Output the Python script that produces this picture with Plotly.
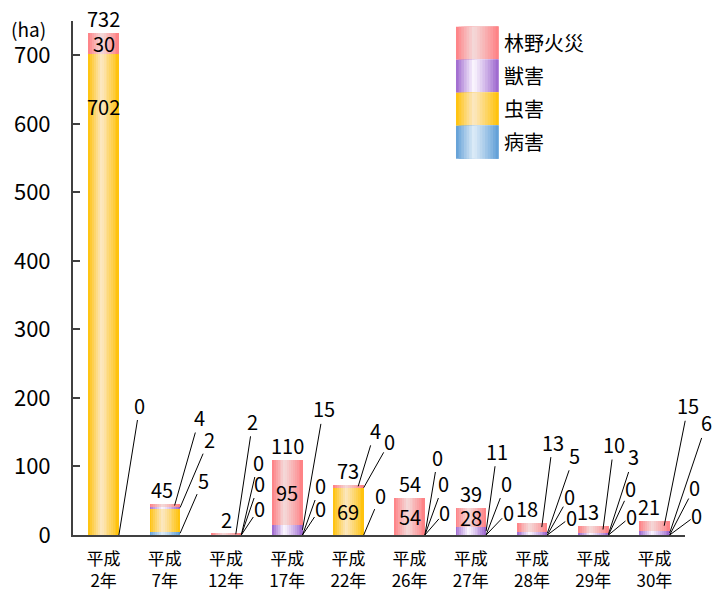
import plotly.graph_objects as go

# ---------------- data ----------------
categories = ["平成<br>2年", "平成<br>7年", "平成<br>12年", "平成<br>17年", "平成<br>22年",
              "平成<br>26年", "平成<br>27年", "平成<br>28年", "平成<br>29年", "平成<br>30年"]
series_names = ["病害", "虫害", "獣害", "林野火災"]          # bottom -> top
byogai = [0, 5, 0, 0, 0, 0, 0, 0, 0, 0]                      # 病害
chugai = [702, 34, 0, 0, 69, 0, 0, 0, 0, 0]                  # 虫害
juugai = [0, 2, 0, 15, 0, 0, 11, 5, 3, 6]                    # 獣害
kasai = [30, 4, 2, 95, 4, 54, 28, 13, 10, 15]                # 林野火災
y_ticks = [0, 100, 200, 300, 400, 500, 600, 700]
unit_label = "(ha)"

# label mode per segment: "in" = inside bar, "lead" = leader-line label, "" = none
mode_byogai = ["lead"] * 10
mode_chugai = ["in", "", "lead", "lead", "in", "lead", "lead", "lead", "lead", "lead"]
mode_juugai = ["", "lead", "lead", "lead", "lead", "lead", "lead", "lead", "lead", "lead"]
mode_kasai = ["in", "lead", "lead", "in", "lead", "in", "in", "lead", "lead", "lead"]

# ---------------- style ----------------
# leader text offsets in pixels (ax, ay) from the segment anchor
off_byogai = [(21, -130), (23, -53), (18, -27), (18, -27), (17, -40), (20, -23), (22, -23), (24, -18), (23, -19), (27, -20)]
off_chugai = [None, None, (18, -52), (18, -50), None, (19, -52), (20, -52), (22, -39), (22, -47), (25, -48)]
off_juugai = [None, (29, -68), (17, -73), (21, -121), (26, -46), (13, -78), (11, -80), (27, -78), (25, -77), (37, -110)]
off_kasai = [None, (25, -88), (17, -113), None, (17, -56), None, None, (11, -85), (11, -85), (24, -120)]
head_dx = [0.25, 0.25, 0.25, 0.16]
total_xshift = [0, -3, 0, 0, 0, 0, 0, -5, -5, -5]
inside_yshift = {(1, 0): 188}   # (series, category) -> pixel shift upward

edge_cols = [(91, 155, 213), (255, 192, 0), (153, 97, 204), (255, 124, 128)]
light_cols = [(222, 236, 248), (252, 232, 196), (252, 248, 255), (244, 218, 218)]

FONT = "Noto Sans CJK JP"
BAR_W = 0.5
N_STRIP = 16

values = [byogai, chugai, juugai, kasai]
modes = [mode_byogai, mode_chugai, mode_juugai, mode_kasai]
offsets = [off_byogai, off_chugai, off_juugai, off_kasai]
n = len(categories)
xs = list(range(n))


def shade(t):
    peak = 0.42
    s = t / peak if t < peak else (1 - t) / (1 - peak)
    return max(0.0, min(1.0, s)) ** 0.9


def mix(c1, c2, s):
    return "rgb(%d,%d,%d)" % tuple(round(a + (b - a) * s) for a, b in zip(c1, c2))


# bases for stacking
bases = []
acc = [0] * n
for vals in values:
    bases.append(acc[:])
    acc = [a + v for a, v in zip(acc, vals)]
totals = acc

fig = go.Figure()

# gradient bars: strips, each from its left edge to the right edge of the bar
for si, vals in enumerate(values):
    for k in range(N_STRIP):
        t0 = k / N_STRIP
        tc = (k + 0.5) / N_STRIP
        off = -BAR_W / 2 + t0 * BAR_W
        fig.add_trace(go.Bar(
            x=xs, y=vals, base=bases[si],
            offset=off, width=BAR_W * (1 - t0),
            marker=dict(color=mix(edge_cols[si], light_cols[si], shade(tc)), line=dict(width=0)),
            hoverinfo="skip", showlegend=False,
        ))

annotations = []
# totals
for i in xs:
    annotations.append(dict(x=i, y=totals[i], text=str(totals[i]), showarrow=False,
                            yanchor="bottom", xshift=total_xshift[i], yshift=-2,
                            font=dict(size=20, color="black", family=FONT)))
# segment labels
for si, vals in enumerate(values):
    for i in xs:
        m = modes[si][i]
        if m == "in":
            annotations.append(dict(x=i, y=bases[si][i] + vals[i] / 2, text=str(vals[i]),
                                    showarrow=False, yshift=inside_yshift.get((si, i), 0),
                                    font=dict(size=20, color="black", family=FONT)))
        elif m == "lead":
            ax, ay = offsets[si][i]
            annotations.append(dict(x=i + head_dx[si], y=bases[si][i] + vals[i] / 2, text=str(vals[i]),
                                    showarrow=True, arrowhead=0, arrowwidth=1, arrowcolor="black",
                                    ax=ax, ay=ay, standoff=0, borderpad=0,
                                    font=dict(size=20, color="black", family=FONT)))

# unit label
annotations.append(dict(x=0, y=1.0, xref="paper", yref="paper", text=unit_label,
                        showarrow=False, xanchor="center", yanchor="middle", xshift=-45, yshift=-7,
                        font=dict(size=19, color="black", family=FONT)))

# custom legend with gradient swatches (top -> bottom)
shapes = []
L_X0, L_X1 = 0.6258, 0.695
L_TOP, L_H = 0.989, 0.0642
for row, si in enumerate([3, 2, 1, 0]):
    y1 = L_TOP - row * L_H
    y0 = y1 - L_H
    for k in range(N_STRIP):
        t0 = k / N_STRIP
        tc = (k + 0.5) / N_STRIP
        shapes.append(dict(type="rect", xref="paper", yref="paper",
                           x0=L_X0 + (L_X1 - L_X0) * t0, x1=L_X1, y0=y0, y1=y1,
                           line=dict(width=0), fillcolor=mix(edge_cols[si], light_cols[si], shade(tc))))
    annotations.append(dict(x=L_X1 + 0.006, y=(y0 + y1) / 2, xref="paper", yref="paper",
                            text=series_names[si], showarrow=False, xanchor="left", yanchor="middle",
                            yshift=1, font=dict(size=20, color="black", family=FONT)))

fig.update_layout(
    width=712, height=589,
    margin=dict(l=73, r=27, t=21, b=54, autoexpand=False),
    paper_bgcolor="white", plot_bgcolor="white",
    barmode="overlay", bargap=0,
    showlegend=False,
    font=dict(family=FONT, color="black"),
    annotations=annotations, shapes=shapes,
    xaxis=dict(range=[-0.5, n - 0.5], tickvals=xs, ticktext=categories, automargin=False,
               showline=True, linecolor="#404040", linewidth=1.5, showgrid=False,
               zeroline=False, ticks="", ticklabelstandoff=8,
               tickfont=dict(size=17, family=FONT, color="black")),
    yaxis=dict(range=[0, 750], tickvals=y_ticks, ticks="inside", ticklen=7, automargin=False,
               tickcolor="#404040", tickwidth=1.5,
               showline=True, linecolor="#404040", linewidth=2, showgrid=False,
               zeroline=False, ticklabelstandoff=16,
               tickfont=dict(size=22, family=FONT, color="black")),
)

fig.write_html("out.html", config={"displayModeBar": False},
               post_script="document.body.style.margin='0px';")
